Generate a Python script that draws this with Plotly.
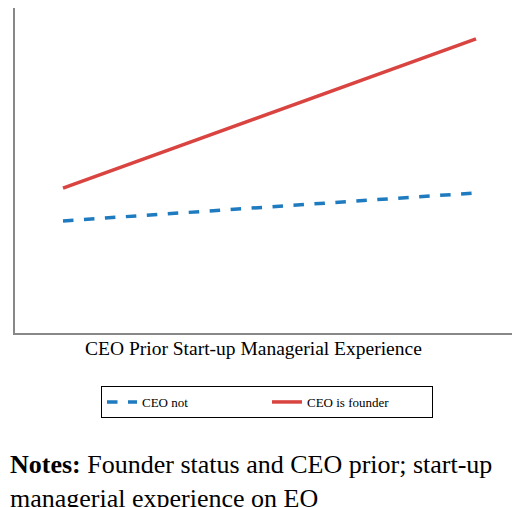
import plotly.graph_objects as go

experience = [0, 1]
ceo_not = [0.345, 0.431]
ceo_founder = [0.446, 0.905]

fig = go.Figure()
fig.add_trace(go.Scatter(x=experience, y=ceo_not, mode="lines", name="CEO not",
                         line=dict(color="#1f7bbf", width=3.5, dash="dash")))
fig.add_trace(go.Scatter(x=experience, y=ceo_founder, mode="lines", name="CEO is founder",
                         line=dict(color="#d94440", width=3.5)))

W, H = 513, 325
fig.update_layout(
    width=520, height=507, margin=dict(l=7, r=0, t=0, b=182, autoexpand=False),
    plot_bgcolor="white", paper_bgcolor="white",
    font=dict(family="Liberation Serif", color="black"),
    xaxis=dict(range=[-48/413, 1+52/413], showticklabels=False, showgrid=False, zeroline=False,
               showline=True, linecolor="#888", linewidth=1.5, ticks=""),
    yaxis=dict(range=[0, 1], showticklabels=False, showgrid=False, zeroline=False,
               showline=True, linecolor="#888", linewidth=1.5, ticks=""),
    showlegend=True,
    legend=dict(orientation="h", x=(93-7)/W, y=(325-378)/H, xanchor="left", yanchor="top",
                bordercolor="black", borderwidth=1, font=dict(size=13, family="Liberation Serif"),
                entrywidth=120, traceorder="normal"),
    annotations=[
        dict(text="CEO Prior Start-up Managerial Experience", x=(245-7)/W, y=(325-353)/H,
             xref="paper", yref="paper", showarrow=False, font=dict(size=19.5)),
        dict(text="<b>Notes:</b> Founder status and CEO prior; start-up<br>managerial experience on EO",
             x=-7/W, y=(325-440)/H, xref="paper", yref="paper", xanchor="left", yanchor="top",
             align="left", showarrow=False, font=dict(size=26)),
    ],
)
fig.write_html("out.html")
